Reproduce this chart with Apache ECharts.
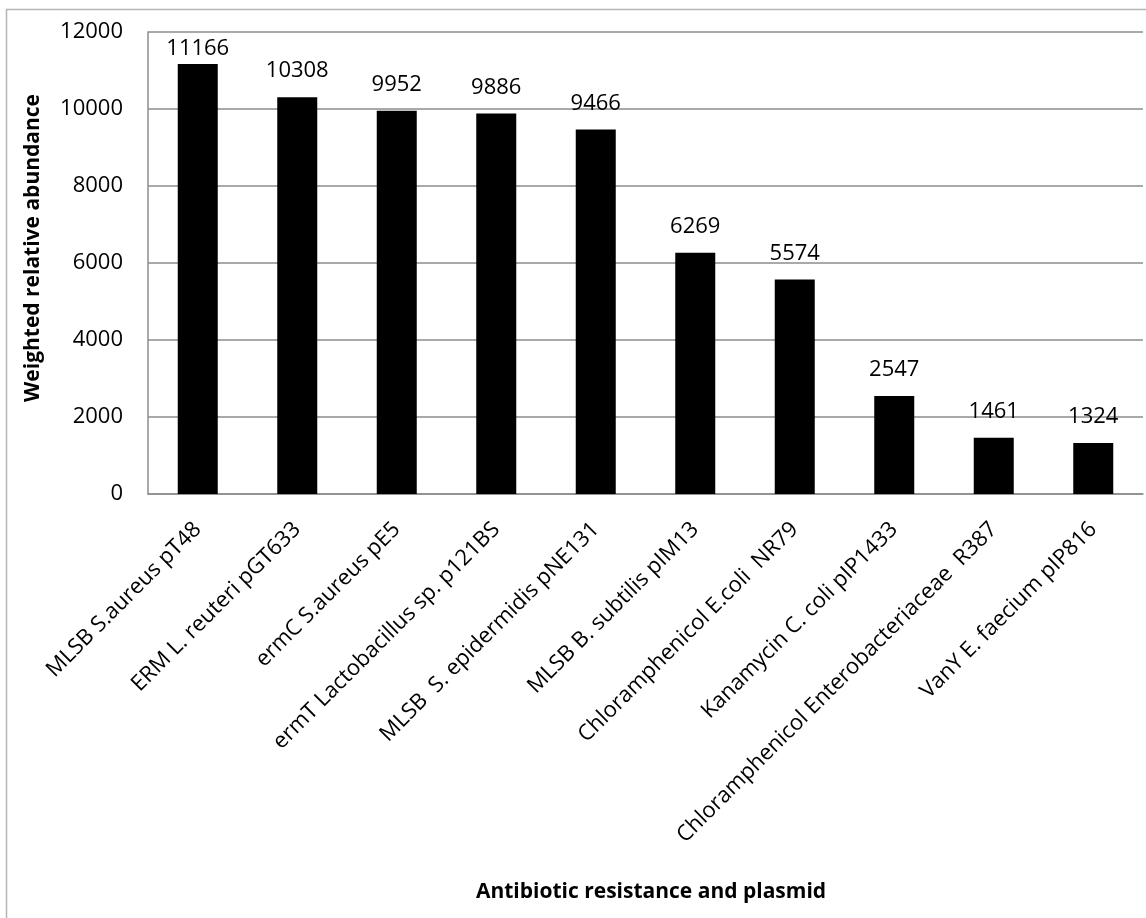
<!DOCTYPE html>
<html>
<head>
<meta charset="utf-8">
<script src="https://cdn.jsdelivr.net/npm/echarts@6/dist/echarts.min.js"></script>
<style>
  html, body { margin: 0; padding: 0; background: #fff; }
  #chart { width: 1146px; height: 918px; }
</style>
</head>
<body>
<div id="chart"></div>
<script>
// Plasmid-borne antibiotic resistance genes, ranked by weighted abundance
const categories = [
  'MLSB S.aureus pT48',
  'ERM L. reuteri pGT633',
  'ermC S.aureus pE5',
  'ermT Lactobacillus sp. p121BS',
  'MLSB  S. epidermidis pNE131',
  'MLSB B. subtilis pIM13',
  'Chloramphenicol E.coli  NR79',
  'Kanamycin C. coli pIP1433',
  'Chloramphenicol Enterobacteriaceae  R387',
  'VanY E. faecium pIP816'
];
const abundance = [11166, 10308, 9952, 9886, 9466, 6269, 5574, 2547, 1461, 1324];
const yTicks = { min: 0, max: 12000, interval: 2000 };
const xTitle = 'Antibiotic resistance and plasmid';
const yTitle = 'Weighted relative abundance';

const FONT = '"Open Sans", "Liberation Sans", sans-serif';

// Value labels float above each bar; a label that would run past the
// top of the plot is tucked in closer to its bar.
const barData = abundance.map((v) => ({
  value: v,
  label: { distance: v > yTicks.max - 1000 ? 4 : 15 }
}));

const chart = echarts.init(document.getElementById('chart'), null, { renderer: 'canvas' });
chart.setOption({
  animation: false,
  backgroundColor: '#ffffff',
  graphic: [
    {
      type: 'rect',
      shape: { x: 6.5, y: 9.5, width: 1160, height: 930 },
      style: { fill: 'none', stroke: '#b5b5b5', lineWidth: 1.5 },
      silent: true
    },
    {
      type: 'text',
      x: 33, y: 248,
      rotation: Math.PI / 2,
      style: {
        text: yTitle, fontFamily: FONT, fontSize: 21, fontWeight: 'bold',
        fill: '#000', align: 'center', verticalAlign: 'middle'
      },
      silent: true
    },
    {
      type: 'text',
      x: 651, y: 892,
      style: {
        text: xTitle, fontFamily: FONT, fontSize: 21, fontWeight: 'bold',
        fill: '#000', align: 'center', verticalAlign: 'middle'
      },
      silent: true
    }
  ],
  grid: { left: 148, right: 3, top: 32, bottom: 424, containLabel: false },
  xAxis: {
    type: 'category',
    data: categories,
    axisLine: { lineStyle: { color: '#8c8c8c', width: 1.5 } },
    axisTick: { show: false },
    axisLabel: {
      interval: 0,
      rotate: 45,
      margin: 32,
      fontFamily: FONT,
      fontSize: 22,
      color: '#000'
    }
  },
  yAxis: {
    type: 'value',
    min: yTicks.min,
    max: yTicks.max,
    interval: yTicks.interval,
    axisLine: { show: true, lineStyle: { color: '#8c8c8c', width: 1.5 } },
    axisTick: { show: false },
    axisLabel: {
      fontFamily: FONT, fontSize: 22, color: '#000', margin: 25,
      formatter: (v) => String(v)
    },
    splitLine: { lineStyle: { color: '#8c8c8c', width: 1.5 } }
  },
  series: [{
    type: 'bar',
    data: barData,
    barWidth: 40,
    itemStyle: { color: '#000000' },
    label: {
      show: true,
      position: 'top',
      distance: 15,
      fontFamily: FONT,
      fontSize: 22,
      color: '#000'
    }
  }]
});
</script>
</body>
</html>
